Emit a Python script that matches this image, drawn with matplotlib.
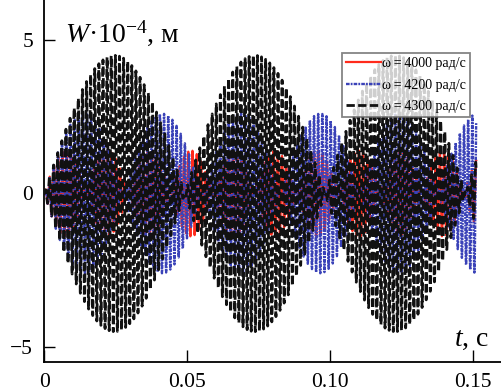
import numpy as np
import matplotlib
matplotlib.use("Agg")
import matplotlib.pyplot as plt

# ---- data ----
omegas = [4000, 4200, 4300]            # rad/s, from legend
labels = ["ω\u2009=\u20094000 рад/с", "ω\u2009=\u20094200 рад/с", "ω\u2009=\u20094300 рад/с"]
amplitudes = [1.4, 2.6, 4.5]           # peak envelope, W·10^-4 m (read)
omega0 = 4428.0                        # natural frequency estimated from beat period
t_end = 0.151
xticks = [0, 0.05, 0.10, 0.15]
xticklabels = ["0", "0.05", "0.10", "0.15"]
yticks = [-5, 0, 5]
yticklabels = ["−5", "0", "5"]

plt.rcParams['font.family'] = ['Liberation Serif', 'DejaVu Serif']
plt.rcParams['mathtext.fontset'] = 'custom'
plt.rcParams['mathtext.rm'] = 'Liberation Serif'
plt.rcParams['mathtext.it'] = 'Liberation Serif:italic'
plt.rcParams['lines.scale_dashes'] = False

fig = plt.figure(figsize=(5.01, 3.92), dpi=100)
ax = fig.add_axes([44.3/501, 1-362/392, 1-44.3/501, 362/392])

t = np.linspace(0, t_end, 40000)
colors = ['#ff2b1c', '#3a42b8', '#111111']
styles = ['-', (0, (2.6, 0.8, 1.3, 0.8)), (0, (6.0, 2.4))]
widths = [1.6, 1.7, 2.0]
zorders = [1, 2, 3]
for om, A, c, ls, lw, z, lab in zip(omegas, amplitudes, colors, styles, widths, zorders, labels):
    d = omega0 - om
    s = omega0 + om
    W = A * np.sin(d * t / 2) * np.sin(s * t / 2)
    ax.plot(t, W, color=c, ls=ls, lw=lw, zorder=z, label=lab)

ax.set_xlim(0, (501-44.3)/2860)
ax.set_ylim(-(362-193.5)/30.7, 193.5/30.7)
ax.set_xticks(xticks)
ax.set_xticklabels(xticklabels)
ax.set_yticks(yticks)
ax.set_yticklabels(yticklabels)
for sp in ['top', 'right']:
    ax.spines[sp].set_visible(False)
for sp in ['left', 'bottom']:
    ax.spines[sp].set_linewidth(1.3)
ax.tick_params(axis='x', direction='in', length=8.5, width=1.0, labelsize=15.5, pad=8)
ax.tick_params(axis='y', direction='in', length=8, width=1.0, labelsize=15.5, pad=8)

fig.text(65/501, 1-42/392, r"$W$·10$^{-4}$, м", fontsize=20, ha='left', va='baseline')
fig.text(489/501, 1-346/392, r"$t$, с", fontsize=20, ha='right', va='baseline')

leg = ax.legend(loc='upper left', bbox_to_anchor=(342/501, 1-53/392),
                bbox_transform=fig.transFigure, fontsize=10, frameon=True,
                fancybox=False, handlelength=2.5, handletextpad=0.1,
                labelspacing=0.6, borderpad=0.3, borderaxespad=0)
leg.get_frame().set_edgecolor('#666666')
leg.get_frame().set_linewidth(1.3)
leg.set_zorder(10)

fig.savefig("out.png", dpi=100)
